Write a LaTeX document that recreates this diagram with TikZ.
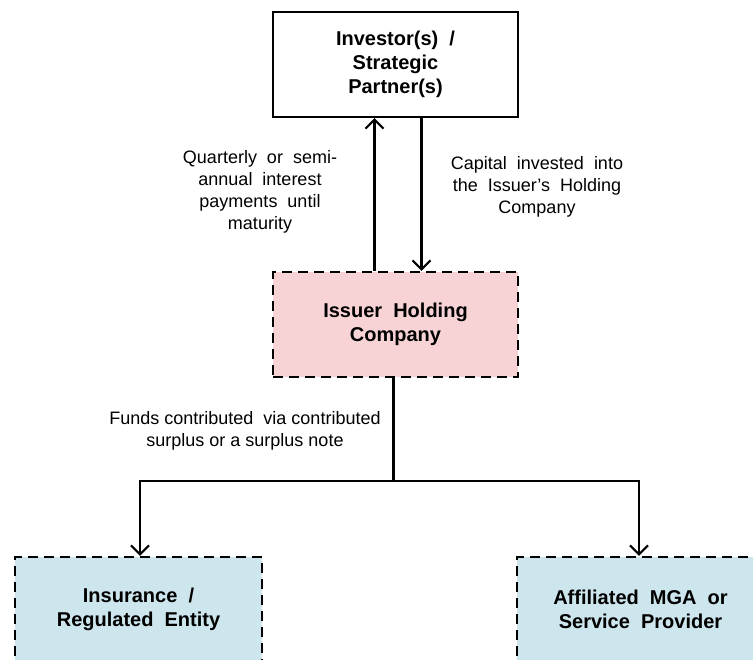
\documentclass[tikz,border=0pt]{standalone}
\usepackage{fontspec}
\setmainfont{Liberation Sans}
\usetikzlibrary{arrows.meta}
\definecolor{issuerpink}{RGB}{248,211,213}
\definecolor{entityblue}{RGB}{205,229,236}
\tikzset{
  box/.style={draw,line width=2.2pt,minimum width=245pt,minimum height=105pt,inner sep=0pt,align=center,font=\fontsize{20}{24}\selectfont\bfseries},
  dashbox/.style={box,dash pattern=on 10pt off 6pt},
  lbl/.style={align=center,font=\fontsize{18}{22}\selectfont},
  arr/.style={line width=2.2pt,-{Straight Barb[length=9pt,width=18pt,line width=2.2pt]}}
}
\begin{document}
\begin{tikzpicture}[x=1pt,y=-1pt]
\useasboundingbox (0,0) rectangle (753,660);
\node[box] (inv) at (395.5,64.5) {Investor(s) \ /\\Strategic\\Partner(s)};
\node[dashbox,fill=issuerpink] (issuer) at (395.5,324.5) {Issuer \ Holding\\Company};
\node[dashbox,fill=entityblue,minimum width=247pt] (ins) at (138.5,609.5) {Insurance \ /\\Regulated \ Entity};
\node[dashbox,fill=entityblue,minimum width=247pt] (mga) at (640.5,609.5) {Affiliated \ MGA \ or\\Service \ Provider};
\draw[arr] ([xshift=-21pt]issuer.north) -- ([xshift=-21pt]inv.south);
\draw[arr] ([xshift=26pt]inv.south) -- ([xshift=26pt]issuer.north);
\node[lbl] (pay) at (260,192) {Quarterly \ or \ semi-\\annual \ interest\\payments \ until\\maturity};
\node[lbl] (cap) at (537,187) {Capital \ invested \ into\\the \ Issuer's \ Holding\\Company};
\coordinate (split) at ([xshift=-2pt]issuer.south |- 0,481);
\draw[line width=2.2pt] ([xshift=-2pt]issuer.south) -- (split);
\draw[arr] (split) -| ([xshift=1.5pt]ins.north);
\draw[arr] (split) -| ([xshift=-1.5pt]mga.north);
\node[lbl] (funds) at (245,431) {Funds contributed \ via contributed\\surplus or a surplus note};
\end{tikzpicture}
\end{document}
